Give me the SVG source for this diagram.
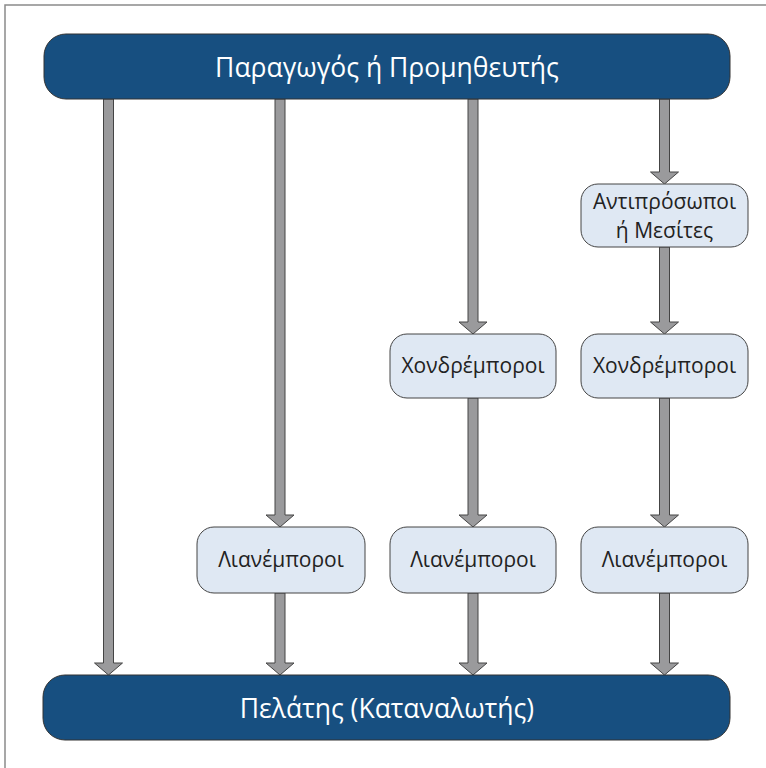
<svg xmlns="http://www.w3.org/2000/svg" width="766" height="768" viewBox="0 0 766 768">
<style>
.main{fill:#174f80;stroke:#333;stroke-width:1}
.node{fill:#dfe8f3;stroke:#444;stroke-width:1}
.mt{font-family:"Open Sans","Noto Sans",sans-serif;font-size:26.5px;fill:#fff;text-anchor:middle}
.nt{font-family:"Open Sans","Noto Sans",sans-serif;font-size:21px;fill:#222;text-anchor:middle}
.arr{fill:#9a9a9c;stroke:#444;stroke-width:1;stroke-linejoin:miter}
</style>
<rect x="0" y="0" width="766" height="768" fill="#fff"/>
<rect x="5" y="5" width="780" height="780" fill="none" stroke="#8a8a8a" stroke-width="1.5"/>
<g id="connectors">
<path class="arr" d="M103.5,99 H113.5 V663 H122.5 L108.5,675 L94.5,663 H103.5 Z"/>
<path class="arr" d="M275,99 H285 V515 H294 L280,527 L266,515 H275 Z"/>
<path class="arr" d="M275,593 H285 V663 H294 L280,675 L266,663 H275 Z"/>
<path class="arr" d="M468,99 H478 V322 H487 L473,334 L459,322 H468 Z"/>
<path class="arr" d="M468,398 H478 V515 H487 L473,527 L459,515 H468 Z"/>
<path class="arr" d="M468,593 H478 V663 H487 L473,675 L459,663 H468 Z"/>
<path class="arr" d="M659.5,99 H669.5 V172 H678.5 L664.5,184 L650.5,172 H659.5 Z"/>
<path class="arr" d="M659.5,247 H669.5 V322 H678.5 L664.5,334 L650.5,322 H659.5 Z"/>
<path class="arr" d="M659.5,398 H669.5 V515 H678.5 L664.5,527 L650.5,515 H659.5 Z"/>
<path class="arr" d="M659.5,593 H669.5 V663 H678.5 L664.5,675 L650.5,663 H659.5 Z"/>
</g>
<g id="producer">
<rect class="main" x="44" y="34" width="686" height="65" rx="22"/>
<text class="mt" x="387" y="77">Παραγωγός ή Προμηθευτής</text>
</g>
<g id="customer">
<rect class="main" x="43" y="675" width="687" height="65" rx="22"/>
<text class="mt" x="387" y="718">Πελάτης (Καταναλωτής)</text>
</g>
<g id="agents">
<rect class="node" x="581" y="184" width="167" height="63" rx="17"/>
<text class="nt" x="664.5" y="209">Αντιπρόσωποι</text>
<text class="nt" x="664.5" y="238">ή Μεσίτες</text>
</g>
<g id="wholesalers3">
<rect class="node" x="390" y="334" width="166" height="64" rx="17"/>
<text class="nt" x="473" y="373">Χονδρέμποροι</text>
</g>
<g id="wholesalers4">
<rect class="node" x="581" y="334" width="167" height="64" rx="17"/>
<text class="nt" x="664.5" y="373">Χονδρέμποροι</text>
</g>
<g id="retailers2">
<rect class="node" x="197" y="527" width="168" height="66" rx="17"/>
<text class="nt" x="281" y="567">Λιανέμποροι</text>
</g>
<g id="retailers3">
<rect class="node" x="390" y="527" width="166" height="66" rx="17"/>
<text class="nt" x="473" y="567">Λιανέμποροι</text>
</g>
<g id="retailers4">
<rect class="node" x="581" y="527" width="167" height="66" rx="17"/>
<text class="nt" x="664.5" y="567">Λιανέμποροι</text>
</g>
</svg>
